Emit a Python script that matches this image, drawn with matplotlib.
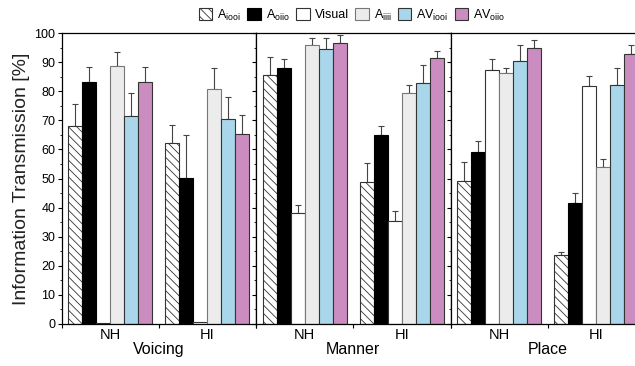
import matplotlib
matplotlib.use('Agg')
import matplotlib.pyplot as plt
import numpy as np
from matplotlib.patches import Patch
from matplotlib.ticker import MultipleLocator

plt.rcParams['font.family'] = ['Liberation Sans', 'DejaVu Sans']
plt.rcParams['mathtext.fontset'] = 'custom'
plt.rcParams['mathtext.rm'] = 'Liberation Sans'
plt.rcParams['mathtext.it'] = 'Liberation Sans'
plt.rcParams['hatch.linewidth'] = 0.6

# data
features = ['Voicing', 'Manner', 'Place']
groups = ['NH', 'HI']
conditions = [r'A$_{\rm iooi}$', r'A$_{\rm oiio}$', 'Visual', r'A$_{\rm iiii}$',
              r'AV$_{\rm iooi}$', r'AV$_{\rm oiio}$']

# means [feature][group][condition]
means = {
    'Voicing': [[67.9, 83.3, 0.3, 88.5, 71.4, 83.2],
                [62.2, 50.3, 0.7, 80.9, 70.6, 65.4]],
    'Manner': [[85.7, 88.0, 38.3, 95.8, 94.4, 96.4],
               [48.9, 64.8, 35.4, 79.4, 82.8, 91.4]],
    'Place': [[49.1, 59.1, 87.4, 86.3, 90.5, 95.0],
              [23.7, 41.6, 81.7, 54.0, 82.1, 92.8]],
}
# upper error bars
errors = {
    'Voicing': [[7.7, 4.9, 0.0, 5.0, 8.1, 5.1],
                [6.2, 14.8, 0.0, 7.2, 7.3, 6.5]],
    'Manner': [[6.1, 3.0, 2.6, 2.5, 3.9, 2.8],
               [6.3, 3.1, 3.3, 2.7, 6.2, 2.4]],
    'Place': [[6.7, 3.7, 3.8, 1.6, 5.3, 2.6],
              [0.9, 3.5, 3.4, 2.8, 5.9, 3.2]],
}

face_colors = ['white', 'black', 'white', '#ececec', '#a9d6ea', '#cb8dbf']
edge_colors = ['#333333', 'black', '#333333', '#777777', '#333333', '#333333']
hatches = ['\\\\\\\\', None, None, None, None, None]

fig = plt.figure(figsize=(6.35, 3.66), dpi=100)

left = 61.5 / 635
width = 194.5 / 635
bottom = 42 / 366
height = 291 / 366

bar_w = 14 / 97.2
axes = []
for k, feat in enumerate(features):
    ax = fig.add_axes([left + k * width, bottom, width, height])
    axes.append(ax)
    for g in range(len(groups)):
        center = g + 0.5
        for j in range(len(conditions)):
            x = center + (j - 2.5) * bar_w
            ax.bar(x, means[feat][g][j], width=bar_w, color=face_colors[j],
                   edgecolor=edge_colors[j], linewidth=0.8, hatch=hatches[j],
                   zorder=2)
            if errors[feat][g][j] > 0:
                ax.errorbar(x, means[feat][g][j], yerr=[[0], [errors[feat][g][j]]],
                            fmt='none', ecolor='#444444', elinewidth=0.8,
                            capsize=2.5, capthick=0.8, zorder=1)
    ax.set_xlim(0, 2)
    ax.set_ylim(0, 100)
    ax.set_xticks([0, 1, 2])
    ax.set_xticklabels([])
    ax.set_xticks([0.5, 1.5], minor=True)
    ax.set_xticklabels(groups, minor=True, fontsize=10.5)
    ax.tick_params(axis='x', which='major', direction='out', length=3, width=0.8)
    ax.tick_params(axis='x', which='minor', length=0, pad=3)
    ax.yaxis.set_major_locator(MultipleLocator(10))
    ax.yaxis.set_minor_locator(MultipleLocator(5))
    ax.tick_params(axis='y', which='major', direction='out', length=3, width=0.8,
                   labelsize=9, pad=1.5)
    ax.tick_params(axis='y', which='minor', direction='out', length=1.8, width=0.6)
    ax.set_xlabel(feat, fontsize=11.5, labelpad=0)
    for s in ax.spines.values():
        s.set_linewidth(0.9)
    if k > 0:
        ax.set_yticklabels([])
    if k == len(features) - 1:
        ax.spines['right'].set_visible(False)

axes[0].set_ylabel('Information Transmission [%]', fontsize=14, labelpad=3,
                   color='#222222')

handles = [Patch(facecolor=face_colors[j], edgecolor=edge_colors[j], hatch=hatches[j],
                 linewidth=0.8, label=conditions[j]) for j in range(len(conditions))]
fig.legend(handles=handles, loc='center', bbox_to_anchor=(352 / 635, 1 - 15 / 366),
           ncol=6, frameon=False, fontsize=9, handlelength=1.1, handleheight=1.1,
           handletextpad=0.4, columnspacing=0.5)

fig.savefig('out.png', dpi=100)
